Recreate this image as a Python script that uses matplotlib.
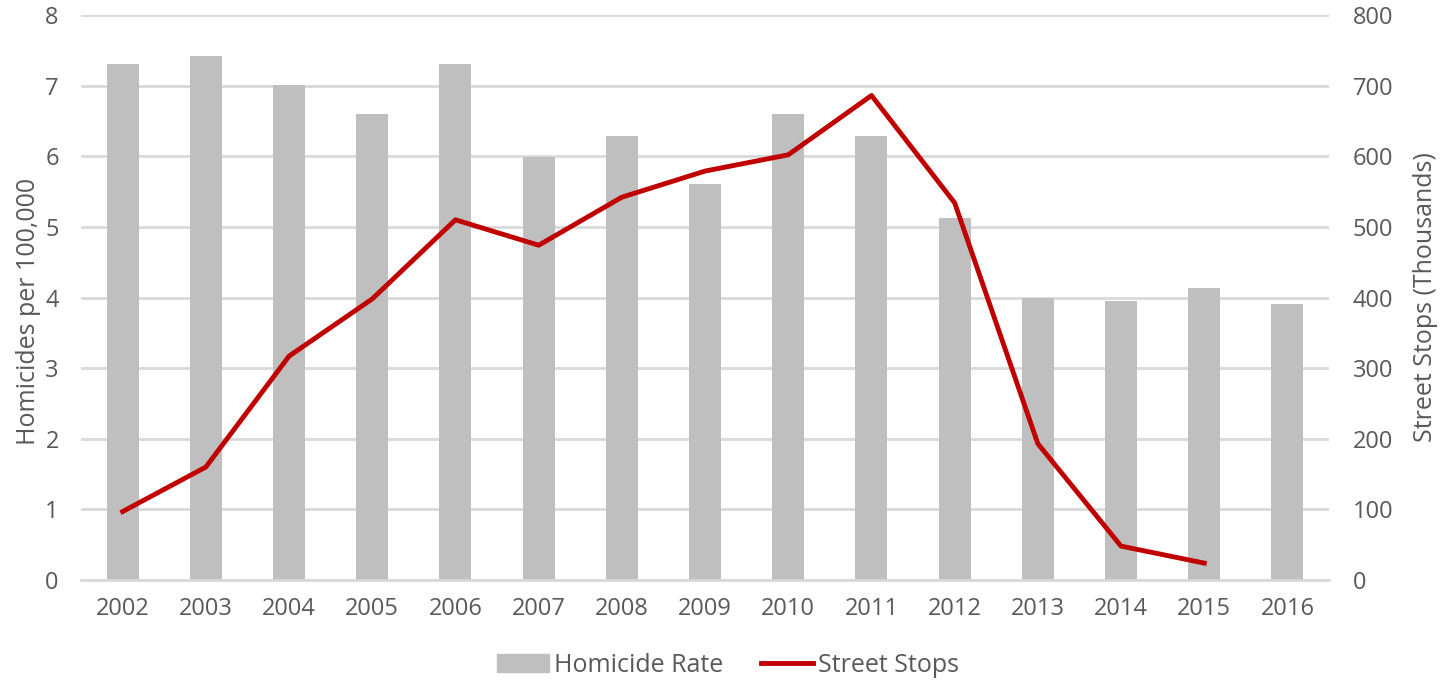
import numpy as np
import matplotlib.pyplot as plt
from matplotlib.patches import Patch
from matplotlib.lines import Line2D

plt.rcParams['font.family'] = ['Open Sans', 'DejaVu Sans']

years = ['2002', '2003', '2004', '2005', '2006', '2007', '2008', '2009',
         '2010', '2011', '2012', '2013', '2014', '2015', '2016']
homicide_rate = [7.31, 7.42, 7.01, 6.60, 7.31, 5.99, 6.29, 5.61,
                 6.60, 6.29, 5.13, 3.99, 3.95, 4.14, 3.91]
street_stops = [97, 160, 317, 398, 510, 474, 542, 579,
                602, 686, 534, 193, 48, 24]

text_col = '#595959'
grid_col = '#d9d9d9'

fig = plt.figure(figsize=(14.5, 6.8), dpi=100)
ax = fig.add_axes([0.0559, 0.147, 0.8607, 0.831])
ax2 = ax.twinx()

x = np.arange(len(years))
ax.bar(x, homicide_rate, width=0.385, color='#bfbfbf', zorder=2)
ax2.plot(x[:len(street_stops)], street_stops, color='#c00000', lw=3.5,
         solid_joinstyle='round', zorder=3)

ax.set_xlim(-0.5, len(years) - 0.5)
ax.set_ylim(0, 8)
ax2.set_ylim(0, 800)
ax.set_yticks(range(0, 9))
ax2.set_yticks(range(0, 801, 100))
ax.set_xticks(x)
ax.set_xticklabels(years)

ax.yaxis.grid(True, color=grid_col, lw=2, zorder=0)
ax.set_axisbelow(True)
for a in (ax, ax2):
    for s in a.spines.values():
        s.set_visible(False)
    a.tick_params(length=0, labelsize=17, colors=text_col)
ax.spines['bottom'].set_visible(True)
ax.spines['bottom'].set_color(grid_col)
ax.spines['bottom'].set_linewidth(2)
ax.tick_params(axis='y', pad=16)
ax.tick_params(axis='x', pad=12)
ax2.tick_params(axis='y', pad=17)

ax.set_ylabel('Homicides per 100,000', fontsize=18, color=text_col, labelpad=3)
ax2.set_ylabel('Street Stops (Thousands)', fontsize=18, color=text_col, labelpad=14)
ax.yaxis.label.set_y(0.475)

handles = [Patch(color='#bfbfbf'), Line2D([], [], color='#c00000', lw=3.5)]
fig.legend(handles, ['Homicide Rate', 'Street Stops'], loc='center',
           bbox_to_anchor=(0.502, 0.022), ncol=2, frameon=False, fontsize=18,
           labelcolor=text_col, handlelength=2.1, handletextpad=0.2,
           columnspacing=1.5)

fig.savefig('out.png', dpi=100)
